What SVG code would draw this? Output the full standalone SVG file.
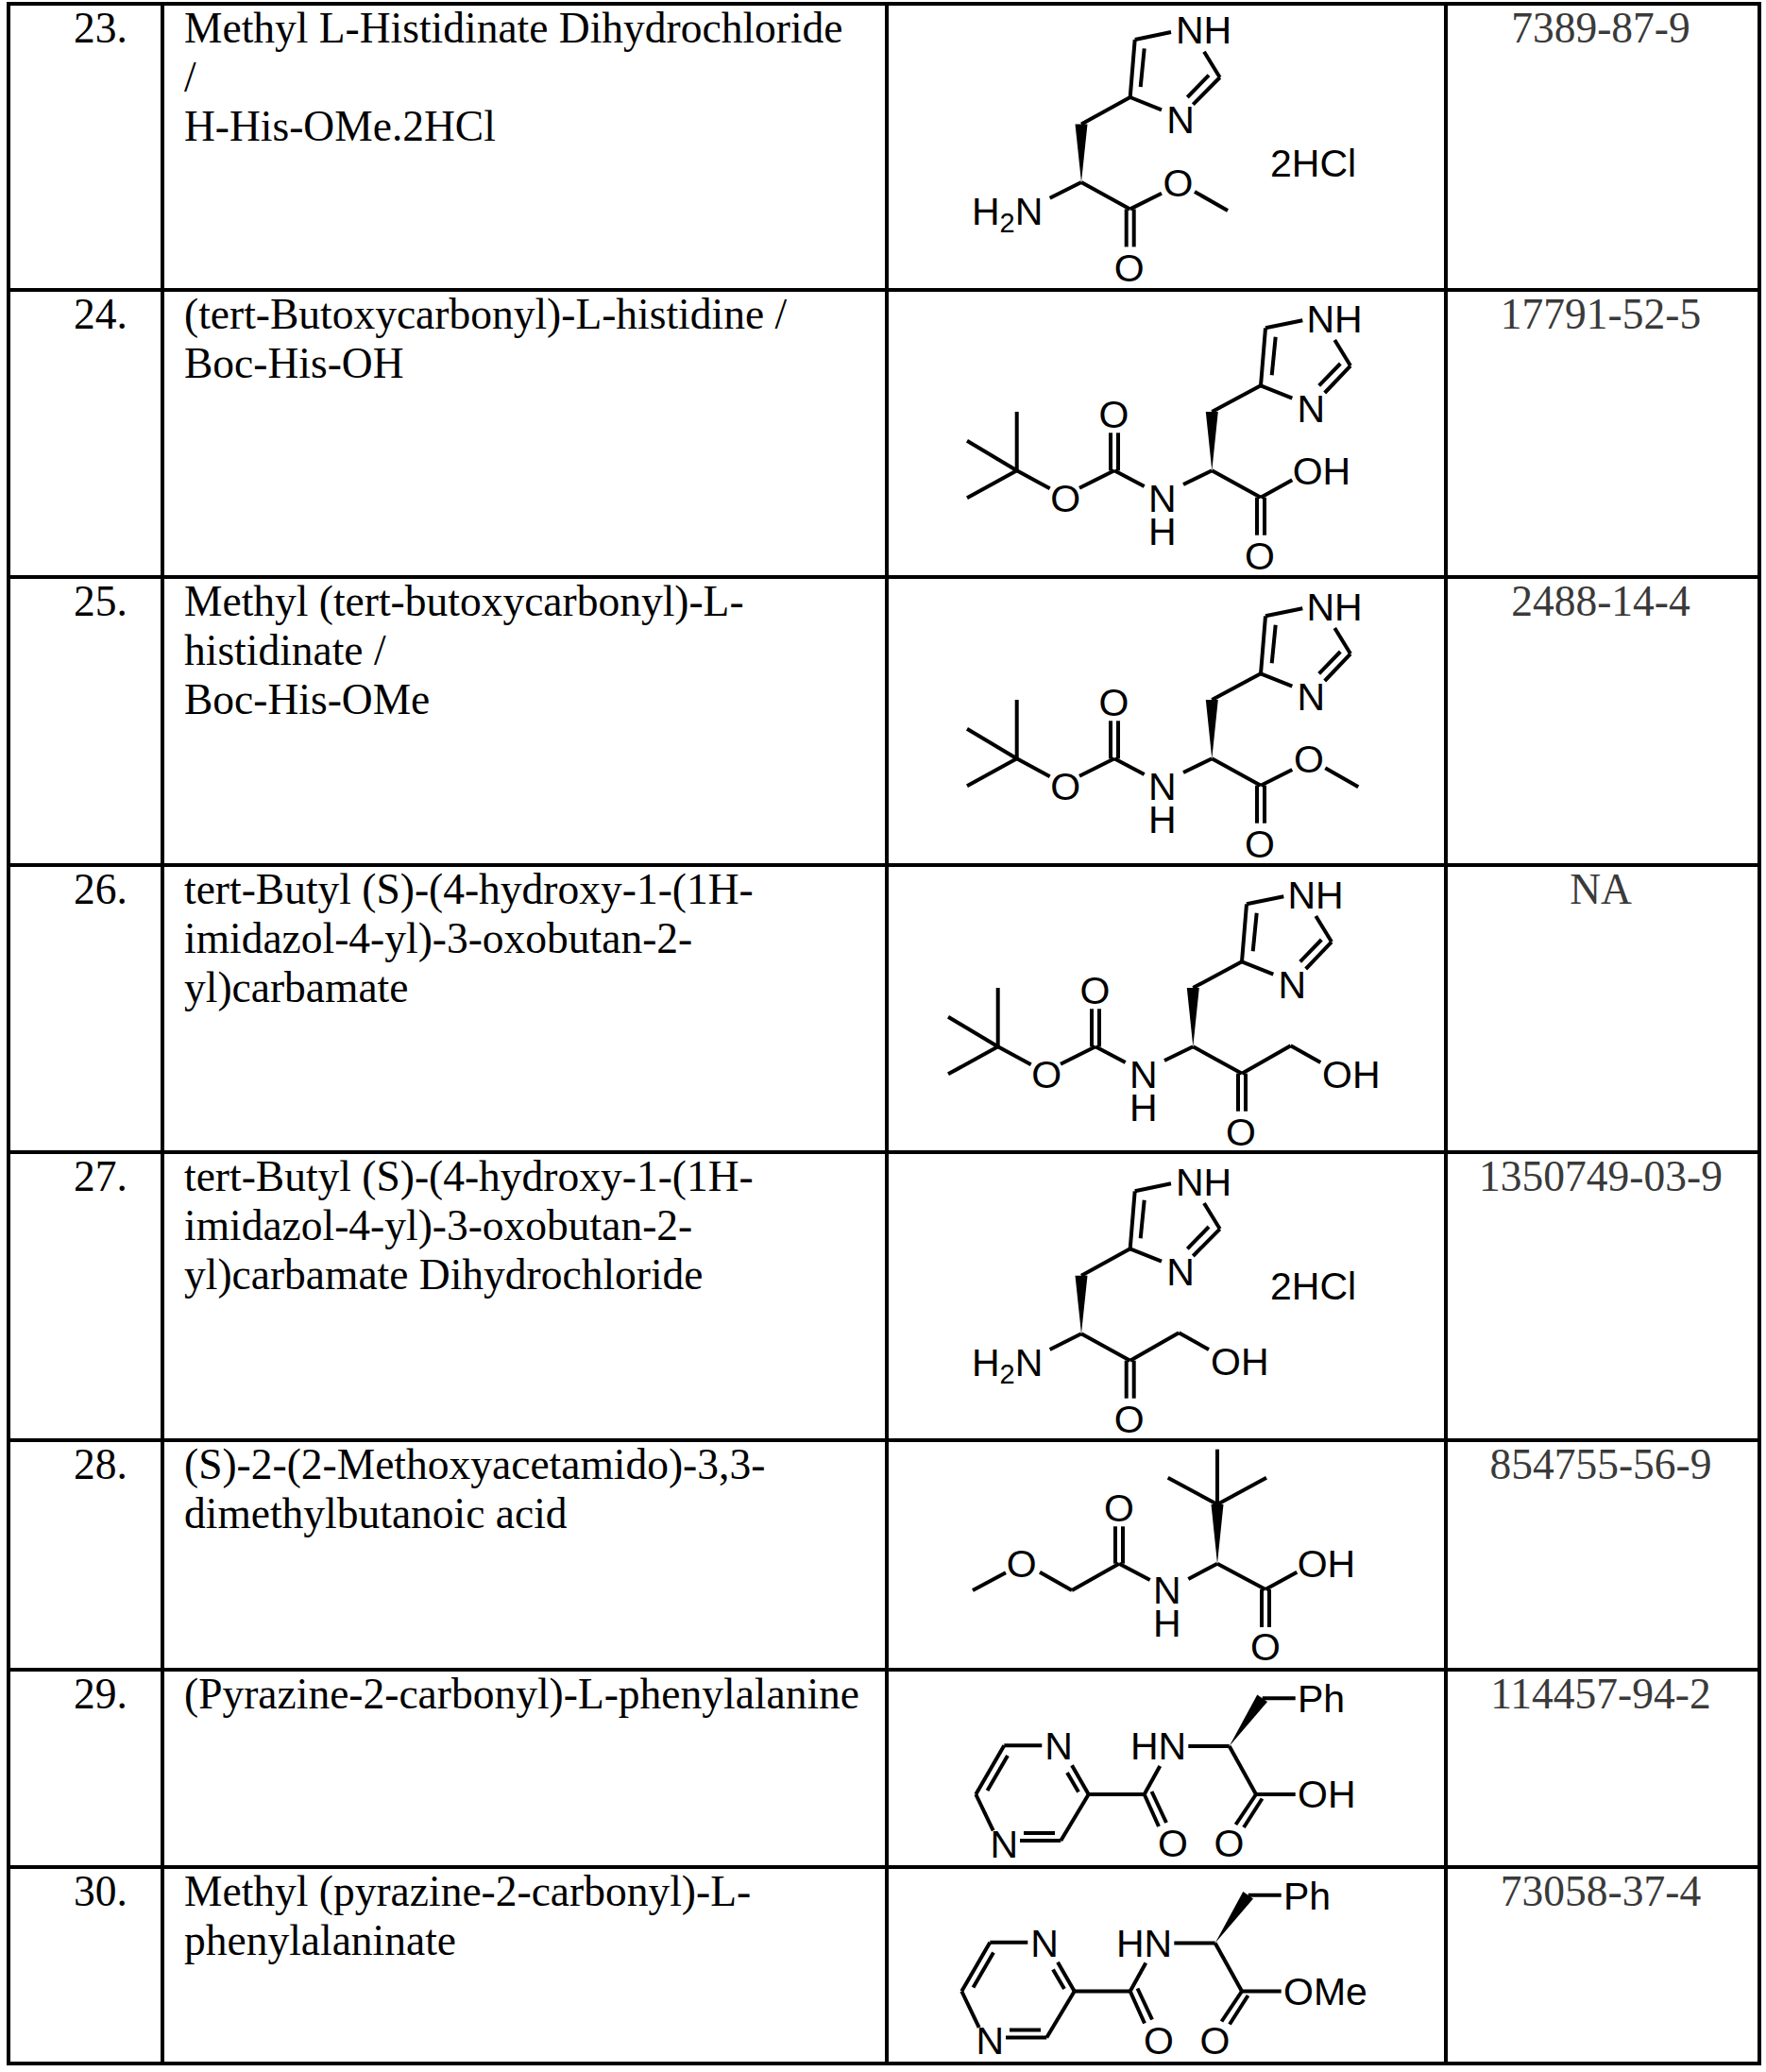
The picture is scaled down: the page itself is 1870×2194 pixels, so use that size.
<svg xmlns="http://www.w3.org/2000/svg" width="1870" height="2194" viewBox="0 0 1870 2194">
<style>
.t{font-family:"Liberation Serif","Times New Roman",serif;font-size:45.5px;fill:#000}
.cas{font-family:"Liberation Serif","Times New Roman",serif;font-size:45.5px;fill:#3a3a3a;text-anchor:middle}
.a{font-family:"Liberation Sans",Arial,sans-serif;font-size:41px;fill:#000}
.m{text-anchor:middle}
.b line{stroke:#000;stroke-width:4;fill:none}
.w{fill:#000}
.grid line,.grid rect{stroke:#000;stroke-width:4;fill:none}
</style>
<rect width="1870" height="2194" fill="#fff"/>
<g id="grid" class="grid">
<rect x="9" y="4" width="1854" height="2181"/>
<line x1="172" y1="4" x2="172" y2="2185"/>
<line x1="939" y1="4" x2="939" y2="2185"/>
<line x1="1531" y1="4" x2="1531" y2="2185"/>
<line x1="9" y1="307" x2="1863" y2="307"/>
<line x1="9" y1="611" x2="1863" y2="611"/>
<line x1="9" y1="916" x2="1863" y2="916"/>
<line x1="9" y1="1220" x2="1863" y2="1220"/>
<line x1="9" y1="1525" x2="1863" y2="1525"/>
<line x1="9" y1="1768" x2="1863" y2="1768"/>
<line x1="9" y1="1977" x2="1863" y2="1977"/>
</g>

<g id="row23">
<text class="t" x="78" y="45">23.</text>
<text class="t" x="195" y="45">Methyl L-Histidinate Dihydrochloride</text>
<text class="t" x="195" y="97">/</text>
<text class="t" x="195" y="149">H-His-OMe.2HCl</text>
<text class="cas" x="1695" y="45">7389-87-9</text>
<g id="s23" transform="translate(0,-1219.3)">
<g class="b">
<line x1="1201.7" y1="1261.3" x2="1240" y2="1253.3"/>
<line x1="1196.7" y1="1322.3" x2="1201.7" y2="1261.3"/>
<line x1="1211.7" y1="1270.7" x2="1207.7" y2="1311.3"/>
<line x1="1275" y1="1274" x2="1291.7" y2="1301.3"/>
<line x1="1291.7" y1="1301.3" x2="1263.3" y2="1330"/>
<line x1="1280" y1="1299" x2="1257.3" y2="1322.3"/>
<line x1="1196.7" y1="1322.3" x2="1230" y2="1335.7"/>
<line x1="1196.7" y1="1322.3" x2="1145" y2="1350.7"/>
<line x1="1145" y1="1412.3" x2="1111.7" y2="1429"/>
<line x1="1145" y1="1412.3" x2="1196.7" y2="1440.7"/>
<line x1="1192.7" y1="1440.7" x2="1192.7" y2="1480.7"/>
<line x1="1200.7" y1="1440.7" x2="1200.7" y2="1480.7"/>
<line x1="1196.7" y1="1440.7" x2="1230" y2="1424"/>
<line x1="1265" y1="1422.3" x2="1300" y2="1442.3"/>
</g>
<polygon class="w" points="1145,1412.3 1138.5,1350.7 1151.5,1350.7"/>
<text class="a" x="1245" y="1265.7">NH</text>
<text class="a m" x="1250" y="1360.7">N</text>
<text class="a" x="1029" y="1457.3">H<tspan font-size="29" dy="8">2</tspan><tspan dy="-8">N</tspan></text>
<text class="a m" x="1247.5" y="1427.3">O</text>
<text class="a m" x="1195.7" y="1517">O</text>
<text class="a" x="1345" y="1406.3">2HCl</text>
</g>
</g>

<g id="row24">
<text class="t" x="78" y="348">24.</text>
<text class="t" x="195" y="348">(tert-Butoxycarbonyl)-L-histidine /</text>
<text class="t" x="195" y="400">Boc-His-OH</text>
<text class="cas" x="1695" y="348">17791-52-5</text>
<g id="s24">
<g class="b">
<line x1="1076.7" y1="436" x2="1076.7" y2="498.3"/>
<line x1="1024" y1="466.7" x2="1076.7" y2="498.3"/>
<line x1="1024" y1="527.3" x2="1076.7" y2="498.3"/>
<line x1="1076.7" y1="498.3" x2="1111.7" y2="517.3"/>
<line x1="1143" y1="516.7" x2="1180" y2="498.3"/>
<line x1="1176" y1="458.3" x2="1176" y2="498.3"/>
<line x1="1184" y1="458.3" x2="1184" y2="498.3"/>
<line x1="1180" y1="498.3" x2="1211.7" y2="515"/>
<line x1="1253" y1="513" x2="1283.3" y2="498.3"/>
<line x1="1283.3" y1="436" x2="1335" y2="408.3"/>
<line x1="1335" y1="408.3" x2="1340" y2="347.3"/>
<line x1="1350.7" y1="356.7" x2="1346.7" y2="397.3"/>
<line x1="1340" y1="347.3" x2="1379.3" y2="339.3"/>
<line x1="1413.3" y1="360" x2="1430" y2="387.3"/>
<line x1="1430" y1="387.3" x2="1402.7" y2="416"/>
<line x1="1419.3" y1="385" x2="1396.7" y2="408.3"/>
<line x1="1335" y1="408.3" x2="1368.3" y2="421.7"/>
<line x1="1283.3" y1="498.3" x2="1335" y2="526.7"/>
<line x1="1335" y1="526.7" x2="1368.3" y2="508.3"/>
<line x1="1331" y1="526.7" x2="1331" y2="566.7"/>
<line x1="1339" y1="526.7" x2="1339" y2="566.7"/>
</g>
<polygon class="w" points="1283.3,498.3 1276.8,436 1289.8,436"/>
<text class="a m" x="1128.3" y="542">O</text>
<text class="a m" x="1179.5" y="452.5">O</text>
<text class="a m"><tspan x="1230.8" y="541.7">N</tspan><tspan x="1230.8" y="576.7">H</tspan></text>
<text class="a" x="1383.5" y="351.7">NH</text>
<text class="a m" x="1388.3" y="446.7">N</text>
<text class="a" x="1368.7" y="513.3">OH</text>
<text class="a m" x="1334" y="603">O</text>
</g>
</g>

<g id="row25">
<text class="t" x="78" y="652">25.</text>
<text class="t" x="195" y="652">Methyl (tert-butoxycarbonyl)-L-</text>
<text class="t" x="195" y="704">histidinate /</text>
<text class="t" x="195" y="756">Boc-His-OMe</text>
<text class="cas" x="1695" y="652">2488-14-4</text>
<g id="s25" transform="translate(0,305)">
<g class="b">
<line x1="1076.7" y1="436" x2="1076.7" y2="498.3"/>
<line x1="1024" y1="466.7" x2="1076.7" y2="498.3"/>
<line x1="1024" y1="527.3" x2="1076.7" y2="498.3"/>
<line x1="1076.7" y1="498.3" x2="1111.7" y2="517.3"/>
<line x1="1143" y1="516.7" x2="1180" y2="498.3"/>
<line x1="1176" y1="458.3" x2="1176" y2="498.3"/>
<line x1="1184" y1="458.3" x2="1184" y2="498.3"/>
<line x1="1180" y1="498.3" x2="1211.7" y2="515"/>
<line x1="1253" y1="513" x2="1283.3" y2="498.3"/>
<line x1="1283.3" y1="436" x2="1335" y2="408.3"/>
<line x1="1335" y1="408.3" x2="1340" y2="347.3"/>
<line x1="1350.7" y1="356.7" x2="1346.7" y2="397.3"/>
<line x1="1340" y1="347.3" x2="1379.3" y2="339.3"/>
<line x1="1413.3" y1="360" x2="1430" y2="387.3"/>
<line x1="1430" y1="387.3" x2="1402.7" y2="416"/>
<line x1="1419.3" y1="385" x2="1396.7" y2="408.3"/>
<line x1="1335" y1="408.3" x2="1368.3" y2="421.7"/>
<line x1="1283.3" y1="498.3" x2="1335" y2="526.7"/>
<line x1="1335" y1="526.7" x2="1368.3" y2="510"/>
<line x1="1331" y1="526.7" x2="1331" y2="566.7"/>
<line x1="1339" y1="526.7" x2="1339" y2="566.7"/>
<line x1="1403.3" y1="508.3" x2="1438.3" y2="528.3"/>
</g>
<polygon class="w" points="1283.3,498.3 1276.8,436 1289.8,436"/>
<text class="a m" x="1128.3" y="542">O</text>
<text class="a m" x="1179.5" y="452.5">O</text>
<text class="a m"><tspan x="1230.8" y="541.7">N</tspan><tspan x="1230.8" y="576.7">H</tspan></text>
<text class="a" x="1383.5" y="351.7">NH</text>
<text class="a m" x="1388.3" y="446.7">N</text>
<text class="a m" x="1386" y="513.3">O</text>
<text class="a m" x="1334" y="603">O</text>
</g>
</g>

<g id="row26">
<text class="t" x="78" y="957">26.</text>
<text class="t" x="195" y="957">tert-Butyl (S)-(4-hydroxy-1-(1H-</text>
<text class="t" x="195" y="1009">imidazol-4-yl)-3-oxobutan-2-</text>
<text class="t" x="195" y="1061">yl)carbamate</text>
<text class="cas" x="1695" y="957">NA</text>
<g id="s26" transform="translate(-20,610)">
<g class="b">
<line x1="1076.7" y1="436" x2="1076.7" y2="498.3"/>
<line x1="1024" y1="466.7" x2="1076.7" y2="498.3"/>
<line x1="1024" y1="527.3" x2="1076.7" y2="498.3"/>
<line x1="1076.7" y1="498.3" x2="1111.7" y2="517.3"/>
<line x1="1143" y1="516.7" x2="1180" y2="498.3"/>
<line x1="1176" y1="458.3" x2="1176" y2="498.3"/>
<line x1="1184" y1="458.3" x2="1184" y2="498.3"/>
<line x1="1180" y1="498.3" x2="1211.7" y2="515"/>
<line x1="1253" y1="513" x2="1283.3" y2="498.3"/>
<line x1="1283.3" y1="436" x2="1335" y2="408.3"/>
<line x1="1335" y1="408.3" x2="1340" y2="347.3"/>
<line x1="1350.7" y1="356.7" x2="1346.7" y2="397.3"/>
<line x1="1340" y1="347.3" x2="1379.3" y2="339.3"/>
<line x1="1413.3" y1="360" x2="1430" y2="387.3"/>
<line x1="1430" y1="387.3" x2="1402.7" y2="416"/>
<line x1="1419.3" y1="385" x2="1396.7" y2="408.3"/>
<line x1="1335" y1="408.3" x2="1368.3" y2="421.7"/>
<line x1="1283.3" y1="498.3" x2="1335" y2="526.7"/>
<line x1="1331" y1="526.7" x2="1331" y2="566.7"/>
<line x1="1339" y1="526.7" x2="1339" y2="566.7"/>
<line x1="1335" y1="526.7" x2="1386.7" y2="497.3"/>
<line x1="1386.7" y1="497.3" x2="1418.3" y2="515"/>
</g>
<polygon class="w" points="1283.3,498.3 1276.8,436 1289.8,436"/>
<text class="a m" x="1128.3" y="542">O</text>
<text class="a m" x="1179.5" y="452.5">O</text>
<text class="a m"><tspan x="1230.8" y="541.7">N</tspan><tspan x="1230.8" y="576.7">H</tspan></text>
<text class="a" x="1383.5" y="351.7">NH</text>
<text class="a m" x="1388.3" y="446.7">N</text>
<text class="a" x="1420" y="541.7">OH</text>
<text class="a m" x="1334" y="603">O</text>
</g>
</g>

<g id="row27">
<text class="t" x="78" y="1261">27.</text>
<text class="t" x="195" y="1261">tert-Butyl (S)-(4-hydroxy-1-(1H-</text>
<text class="t" x="195" y="1313">imidazol-4-yl)-3-oxobutan-2-</text>
<text class="t" x="195" y="1365">yl)carbamate Dihydrochloride</text>
<text class="cas" x="1695" y="1261">1350749-03-9</text>
<g id="s27">
<g class="b">
<line x1="1201.7" y1="1261.3" x2="1240" y2="1253.3"/>
<line x1="1196.7" y1="1322.3" x2="1201.7" y2="1261.3"/>
<line x1="1211.7" y1="1270.7" x2="1207.7" y2="1311.3"/>
<line x1="1275" y1="1274" x2="1291.7" y2="1301.3"/>
<line x1="1291.7" y1="1301.3" x2="1263.3" y2="1330"/>
<line x1="1280" y1="1299" x2="1257.3" y2="1322.3"/>
<line x1="1196.7" y1="1322.3" x2="1230" y2="1335.7"/>
<line x1="1196.7" y1="1322.3" x2="1145" y2="1350.7"/>
<line x1="1145" y1="1412.3" x2="1111.7" y2="1429"/>
<line x1="1145" y1="1412.3" x2="1196.7" y2="1440.7"/>
<line x1="1192.7" y1="1440.7" x2="1192.7" y2="1480.7"/>
<line x1="1200.7" y1="1440.7" x2="1200.7" y2="1480.7"/>
<line x1="1196.7" y1="1440.7" x2="1248.3" y2="1411.3"/>
<line x1="1248.3" y1="1411.3" x2="1280" y2="1429"/>
</g>
<polygon class="w" points="1145,1412.3 1138.5,1350.7 1151.5,1350.7"/>
<text class="a" x="1245" y="1265.7">NH</text>
<text class="a m" x="1250" y="1360.7">N</text>
<text class="a" x="1029" y="1457.3">H<tspan font-size="29" dy="8">2</tspan><tspan dy="-8">N</tspan></text>
<text class="a" x="1282" y="1455.7">OH</text>
<text class="a m" x="1195.7" y="1517">O</text>
<text class="a" x="1345" y="1375.7">2HCl</text>
</g>
</g>

<g id="row28">
<text class="t" x="78" y="1566">28.</text>
<text class="t" x="195" y="1566">(S)-2-(2-Methoxyacetamido)-3,3-</text>
<text class="t" x="195" y="1618">dimethylbutanoic acid</text>
<text class="cas" x="1695" y="1566">854755-56-9</text>
<g id="s28">
<g class="b">
<line x1="1030" y1="1684" x2="1065" y2="1665.3"/>
<line x1="1101" y1="1664.7" x2="1135" y2="1684"/>
<line x1="1135" y1="1684" x2="1185" y2="1655.7"/>
<line x1="1181" y1="1616.3" x2="1181" y2="1655.7"/>
<line x1="1189" y1="1616.3" x2="1189" y2="1655.7"/>
<line x1="1185" y1="1655.7" x2="1217.7" y2="1673"/>
<line x1="1258.3" y1="1672" x2="1289" y2="1655.7"/>
<line x1="1289" y1="1593" x2="1289" y2="1534.7"/>
<line x1="1289" y1="1593" x2="1236.7" y2="1564.7"/>
<line x1="1289" y1="1593" x2="1341" y2="1564.7"/>
<line x1="1289" y1="1655.7" x2="1340" y2="1683"/>
<line x1="1340" y1="1683" x2="1373.3" y2="1664.7"/>
<line x1="1336" y1="1683" x2="1336" y2="1723"/>
<line x1="1344" y1="1683" x2="1344" y2="1723"/>
</g>
<polygon class="w" points="1289,1655.7 1282.5,1593 1295.5,1593"/>
<text class="a m" x="1081.7" y="1669.7">O</text>
<text class="a m" x="1185" y="1611">O</text>
<text class="a m"><tspan x="1235.8" y="1698">N</tspan><tspan x="1235.8" y="1733">H</tspan></text>
<text class="a" x="1373.7" y="1669.7">OH</text>
<text class="a m" x="1340" y="1758">O</text>
</g>
</g>

<g id="row29">
<text class="t" x="78" y="1809">29.</text>
<text class="t" x="195" y="1809">(Pyrazine-2-carbonyl)-L-phenylalanine</text>
<text class="cas" x="1695" y="1809">114457-94-2</text>
<g id="s29">
<g class="b">
<line x1="1063.3" y1="1848.3" x2="1103.3" y2="1848.3"/>
<line x1="1135" y1="1869.3" x2="1152.7" y2="1900"/>
<line x1="1130" y1="1877" x2="1142" y2="1897.5"/>
<line x1="1152.7" y1="1900" x2="1123.3" y2="1949"/>
<line x1="1123.3" y1="1949" x2="1080" y2="1949"/>
<line x1="1117" y1="1941" x2="1084" y2="1941"/>
<line x1="1051.7" y1="1938.3" x2="1033.3" y2="1900"/>
<line x1="1033.3" y1="1900" x2="1063.3" y2="1848.3"/>
<line x1="1045.5" y1="1896" x2="1067" y2="1859"/>
<line x1="1152.7" y1="1900" x2="1211.7" y2="1900"/>
<line x1="1211.7" y1="1900" x2="1228.3" y2="1870"/>
<line x1="1211.7" y1="1900" x2="1227" y2="1934"/>
<line x1="1219.5" y1="1897" x2="1235" y2="1930"/>
<line x1="1258.3" y1="1849" x2="1301.7" y2="1849"/>
<line x1="1336.7" y1="1798.3" x2="1371.7" y2="1798.3"/>
<line x1="1301.7" y1="1849" x2="1330" y2="1900"/>
<line x1="1330" y1="1900" x2="1371.7" y2="1900"/>
<line x1="1330" y1="1900" x2="1308.5" y2="1932"/>
<line x1="1336.5" y1="1904.5" x2="1317" y2="1935"/>
</g>
<polygon class="w" points="1301.7,1849 1331.3,1794.6 1342,1802"/>
<text class="a m" x="1121" y="1863.3">N</text>
<text class="a m" x="1063.3" y="1966.7">N</text>
<text class="a" x="1197" y="1863.3">HN</text>
<text class="a" x="1374" y="1813.3">Ph</text>
<text class="a" x="1374" y="1914">OH</text>
<text class="a m" x="1242" y="1966">O</text>
<text class="a m" x="1301.5" y="1966">O</text>
</g>
</g>

<g id="row30">
<text class="t" x="78" y="2018">30.</text>
<text class="t" x="195" y="2018">Methyl (pyrazine-2-carbonyl)-L-</text>
<text class="t" x="195" y="2070">phenylalaninate</text>
<text class="cas" x="1695" y="2018">73058-37-4</text>
<g id="s30" transform="translate(-15,208.5)">
<g class="b">
<line x1="1063.3" y1="1848.3" x2="1103.3" y2="1848.3"/>
<line x1="1135" y1="1869.3" x2="1152.7" y2="1900"/>
<line x1="1130" y1="1877" x2="1142" y2="1897.5"/>
<line x1="1152.7" y1="1900" x2="1123.3" y2="1949"/>
<line x1="1123.3" y1="1949" x2="1080" y2="1949"/>
<line x1="1117" y1="1941" x2="1084" y2="1941"/>
<line x1="1051.7" y1="1938.3" x2="1033.3" y2="1900"/>
<line x1="1033.3" y1="1900" x2="1063.3" y2="1848.3"/>
<line x1="1045.5" y1="1896" x2="1067" y2="1859"/>
<line x1="1152.7" y1="1900" x2="1211.7" y2="1900"/>
<line x1="1211.7" y1="1900" x2="1228.3" y2="1870"/>
<line x1="1211.7" y1="1900" x2="1227" y2="1934"/>
<line x1="1219.5" y1="1897" x2="1235" y2="1930"/>
<line x1="1258.3" y1="1849" x2="1301.7" y2="1849"/>
<line x1="1336.7" y1="1798.3" x2="1371.7" y2="1798.3"/>
<line x1="1301.7" y1="1849" x2="1330" y2="1900"/>
<line x1="1330" y1="1900" x2="1371.7" y2="1900"/>
<line x1="1330" y1="1900" x2="1308.5" y2="1932"/>
<line x1="1336.5" y1="1904.5" x2="1317" y2="1935"/>
</g>
<polygon class="w" points="1301.7,1849 1331.3,1794.6 1342,1802"/>
<text class="a m" x="1121" y="1863.3">N</text>
<text class="a m" x="1063.3" y="1966.7">N</text>
<text class="a" x="1197" y="1863.3">HN</text>
<text class="a" x="1374" y="1813.3">Ph</text>
<text class="a" x="1374" y="1914">OMe</text>
<text class="a m" x="1242" y="1966">O</text>
<text class="a m" x="1301.5" y="1966">O</text>
</g>
</g>
</svg>
